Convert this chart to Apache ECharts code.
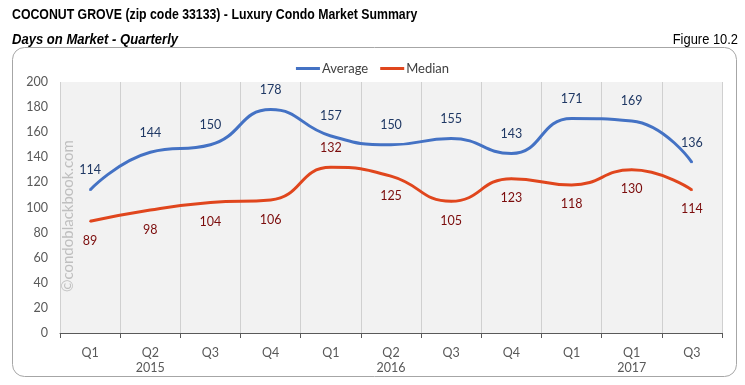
<!DOCTYPE html>
<html><head><meta charset="utf-8">
<script src="https://cdn.jsdelivr.net/npm/echarts@6/dist/echarts.min.js"></script>
<style>html,body{margin:0;padding:0;background:#fff}#c{width:745px;height:385px}</style>
</head><body><div id="c"></div>
<script>
var quarters = ['Q1','Q2','Q3','Q4','Q1','Q2','Q3','Q4','Q1','Q1','Q3'];
var years = ['','2015','','','','2016','','','','2017',''];
var average = [114,144,150,178,157,150,155,143,171,169,136];
var median = [89,98,104,106,132,125,105,123,118,130,114];
var medianLabelAbove = [false,false,false,false,true,false,false,false,false,false,false];
var yTicks = [0,20,40,60,80,100,120,140,160,180,200];

var cats = quarters.map(function(q,i){ return years[i] ? q + '\n' + years[i] : q; });
var chart = echarts.init(document.getElementById('c'));
var sans = '"Liberation Sans",Arial,sans-serif';
var lab = 'Lato, "Open Sans", sans-serif';
chart.setOption({
  animation:false,
  graphic:[
    {type:'rect', shape:{x:12.5,y:47.5,width:724,height:329,r:12}, style:{fill:'none',stroke:'#a6a6a6',lineWidth:1}, z:-1},
    {type:'text', x:12, y:7, scaleX:0.82, style:{text:'COCONUT GROVE (zip code 33133) - Luxury Condo Market Summary', font:'bold 15px '+sans, fill:'#000'}},
    {type:'text', x:12, y:32, scaleX:0.87, style:{text:'Days on Market - Quarterly', font:'italic bold 15px '+sans, fill:'#000'}},
    {type:'text', x:738, y:32, scaleX:0.86, style:{text:'Figure 10.2', font:'15px '+sans, fill:'#000', textAlign:'right'}},
    {type:'text', x:61, y:292, rotation:Math.PI/2, style:{text:'©condoblackbook.com', font:'15px '+lab, fill:'#bfbfbf'}, z:10}
  ],
  legend:{top:57, left:'center', itemWidth:24, itemHeight:3, itemGap:12,
    textStyle:{fontFamily:lab, fontSize:13, color:'#404040', padding:[0,0,0,-3]},
    data:[{name:'Average',icon:'rect',itemStyle:{color:'#4472c4',opacity:1}},{name:'Median',icon:'rect',itemStyle:{color:'#e0461d',opacity:1}}]},
  grid:{left:60, right:23, top:82, bottom:52, show:true, backgroundColor:'#f2f2f2', borderWidth:0},
  xAxis:{type:'category', data:cats, boundaryGap:true,
    axisLine:{lineStyle:{color:'#595959',width:1}},
    axisTick:{show:true, length:5, lineStyle:{color:'#595959'}},
    splitLine:{show:true, interval:0, lineStyle:{color:'#d0d0d0'}},
    axisLabel:{interval:0, color:'#595959', fontFamily:lab, fontSize:12.5, lineHeight:15, margin:12, verticalAlign:'top'}},
  yAxis:{type:'value', min:0, max:200, interval:20,
    axisLine:{show:false}, axisTick:{show:false}, splitLine:{show:false},
    axisLabel:{color:'#595959', fontFamily:lab, fontSize:12.5, margin:12}},
  series:[
    {name:'Average', type:'line', data:average, smooth:0.5, symbol:'circle', symbolSize:2, showSymbol:true, showAllSymbol:true,
     itemStyle:{color:'#4472c4'}, color:'#4472c4',
     lineStyle:{width:3, color:'#4472c4'},
     label:{show:true, position:'top', distance:12, color:'#1f3864', fontFamily:lab, fontSize:12.5}},
    {name:'Median', type:'line', smooth:0.5, symbol:'circle', symbolSize:2, showSymbol:true, showAllSymbol:true,
     itemStyle:{color:'#e0461d'}, color:'#e0461d',
     data:median.map(function(v,i){ return {value:v, label:{position: medianLabelAbove[i]?'top':'bottom'}}; }),
     lineStyle:{width:3, color:'#e0461d'},
     label:{show:true, distance:12, color:'#7b0c0c', fontFamily:lab, fontSize:12.5}}
  ]
});
</script></body></html>
